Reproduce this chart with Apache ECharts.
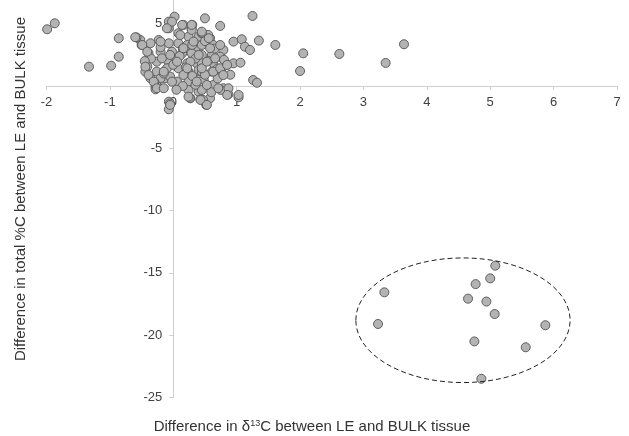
<!DOCTYPE html>
<html>
<head>
<meta charset="utf-8">
<script src="https://cdn.jsdelivr.net/npm/echarts@6/dist/echarts.min.js"></script>
<style>
html,body{margin:0;padding:0;background:#fff;}
#c{width:629px;height:436px;}
</style>
</head>
<body>
<div id="c"></div>
<script>
// Main cluster: difference in d13C (x) and difference in total %C (y)
const mainD13C = [
  0.02,-0.07,-0.07,0.16,0.29,0.08,0.24,0.40,-0.23,-0.36,-0.52,-0.07,0.08,0.22,0.37,
  -0.39,-0.20,-0.02,0.14,0.29,0.45,-0.41,-0.26,-0.10,0.06,0.22,0.37,-0.26,-0.10,0.08,
  0.24,0.40,-0.44,-0.13,0.06,0.24,0.40,-0.28,0.24,0.40,-0.07,0.27,
  0.50,0.74,1.25,0.45,0.58,0.45,0.63,0.79,0.95,1.08,1.13,1.21,1.35,0.61,0.74,0.45,
  0.63,0.85,0.95,1.06,0.45,0.61,0.77,0.48,0.63,0.79,0.85,0.45,1.26,1.32,1.03,0.43,0.58,
  -1.99,-1.87,-1.33,-0.98,-0.86,-0.86,-0.58,-0.50,2.05,2.00,1.61,2.62,3.35,3.64,
  0.52,-0.07,-0.36,-0.20,-0.05,-0.28,0.26,0.47,0.87,0.75,-0.27,-0.05,
  0.15,0.30,0.50,0.35,0.55,0.10,0.20,0.00,-0.15,0.30,0.50,0.70,0.15,0.05,0.60,0.35,
  -0.35,-0.20,0.65,0.80,0.70,0.90,0.55,0.30,-0.45,-0.30,0.14,0.29,0.45,
  -0.60,-0.49,-0.41,-0.44,-0.39,-0.31,-0.26,-0.20,-0.18,-0.15,-0.02,-0.10,0.11,0.16,0.06,
  -0.02,0.16,0.29,0.32,0.40,0.45,0.37,0.45,0.56,0.58,0.66,0.63,0.53,0.24,0.43,0.53,
  -0.05,0.74,0.85,0.79,0.71,0.87,0.85,1.03,0.74,-0.05,0.27,0.22,0.53,-0.15
];
const mainTotalC = [
  5.56,5.16,4.63,4.90,4.63,4.23,3.96,3.96,3.69,3.43,3.69,3.43,3.43,3.29,3.15,
  2.62,2.75,2.75,2.62,2.62,2.49,1.55,1.95,2.09,2.09,1.82,1.82,1.15,1.42,1.42,
  1.15,1.28,1.15,0.62,0.35,0.35,0.48,-0.06,-0.32,-0.46,-1.26,-0.99,
  5.43,4.82,5.62,4.23,3.83,3.29,3.29,2.89,3.56,3.75,3.15,2.89,3.64,2.49,2.35,1.82,
  1.82,1.69,1.82,1.87,1.15,1.15,1.02,0.48,0.08,-0.18,-0.46,-0.32,0.48,0.26,-0.91,-1.07,-0.99,
  4.55,5.03,1.55,1.63,3.83,2.35,3.90,3.29,2.62,1.20,3.29,2.57,1.85,3.35,
  -1.52,-1.87,0.62,0.62,0.75,-0.27,-0.94,-1.12,-0.67,-0.32,0.08,-1.40,
  3.00,3.30,3.60,2.20,2.00,2.40,1.50,1.70,1.00,0.80,0.90,0.60,0.00,-0.30,-0.50,0.10,
  2.20,3.10,3.00,2.10,1.40,0.90,4.10,4.90,2.00,0.30,4.90,4.50,4.28,
  3.91,3.29,2.75,1.55,0.88,0.35,-0.18,3.56,2.22,1.15,5.16,4.63,4.09,3.03,1.95,
  0.35,0.88,4.90,3.56,2.49,1.42,0.35,4.36,3.83,3.03,2.22,1.15,0.08,-0.86,-1.12,-1.52,
  -1.52,1.42,1.69,0.88,-0.18,-0.18,-0.72,-0.72,3.29,2.49,1.95,1.42,1.95,-0.18
];
// Outlying group (circled)
const outD13C = [3.33,3.23,5.08,5.00,4.77,4.65,4.94,5.07,5.87,4.75,5.56,4.86];
const outTotalC = [-16.56,-19.10,-14.42,-15.44,-15.90,-17.07,-17.30,-18.30,-19.20,-20.50,-20.97,-23.50];
// Axis ticks
const xTicks = [-2,-1,0,1,2,3,4,5,6,7];
const yTicks = [-25,-20,-15,-10,-5,0,5];

const pairs = (xs, ys) => xs.map((x, i) => [x, ys[i]]);
const allData = pairs(mainD13C, mainTotalC).concat(pairs(outD13C, outTotalC));

const chart = echarts.init(document.getElementById('c'), null, {renderer: 'canvas'});
const axisGray = '#cfcfcf';
const labelColor = '#404040';
const font = 'Liberation Sans, Arial, sans-serif';
const gridLeft = 46.5, gridRight = 12, gridTop = 0, gridBottom = 38.5;

const option = {
  animation: false,
  backgroundColor: '#fff',
  grid: {left: gridLeft, right: gridRight, top: gridTop, bottom: gridBottom, containLabel: false},
  xAxis: {
    type: 'value',
    min: xTicks[0], max: xTicks[xTicks.length - 1], interval: 1,
    splitLine: {show: false},
    axisLine: {onZero: false, lineStyle: {color: axisGray, width: 1}},
    axisTick: {show: true, length: 4, lineStyle: {color: axisGray}},
    axisLabel: {color: labelColor, fontSize: 13, fontFamily: font, margin: 10}
  },
  yAxis: {
    type: 'value',
    min: yTicks[0], max: 6.9, interval: 5,
    splitLine: {show: false},
    axisLine: {onZero: false, lineStyle: {color: axisGray, width: 1}},
    axisTick: {show: true, length: 4, lineStyle: {color: axisGray},
      customValues: yTicks},
    axisLabel: {color: labelColor, fontSize: 13, fontFamily: font, margin: 11,
      customValues: yTicks,
      formatter: v => (yTicks.indexOf(v) >= 0 ? String(v) : '')}
  },
  series: [{
    type: 'scatter',
    data: allData,
    symbol: 'circle',
    symbolSize: 9,
    itemStyle: {color: '#b3b3b3', borderColor: '#5e5e5e', borderWidth: 1, opacity: 1},
    z: 3
  }]
};
chart.setOption(option);

// Move both axes so they cross at the data origin (0, 0)
const o = chart.convertToPixel({gridIndex: 0}, [0, 0]);
const chartH = chart.getHeight();
chart.setOption({
  xAxis: {offset: -((chartH - gridBottom) - o[1])},
  yAxis: {offset: -(o[0] - gridLeft)}
});

// Annotation: dashed ellipse around the outlying group, placed in data coordinates
const c = chart.convertToPixel({gridIndex: 0}, [4.57, -18.8]);
const e = chart.convertToPixel({gridIndex: 0}, [4.57 + 1.69, -18.8 - 5.0]);
chart.setOption({
  graphic: [
    {
      type: 'ellipse',
      shape: {cx: c[0], cy: c[1], rx: Math.abs(e[0] - c[0]), ry: Math.abs(e[1] - c[1])},
      style: {fill: 'none', stroke: '#222', lineWidth: 1, lineDash: [5, 3]},
      z: 10
    },
    {
      type: 'text',
      x: 312, y: 427,
      style: {
        text: '{a|Difference in δ}{s|13}{a|C between LE and BULK tissue}',
        fontFamily: font,
        align: 'center', verticalAlign: 'middle',
        rich: {
          a: {fontSize: 15, fill: '#333', fontFamily: font},
          s: {fontSize: 9, fill: '#333', fontFamily: font, padding: [0, 0, 7, 0]}
        }
      }
    },
    {
      type: 'text',
      x: 21, y: 189,
      rotation: Math.PI / 2,
      style: {
        text: 'Difference in total %C between LE and BULK tissue',
        fontSize: 15, fill: '#333', fontFamily: font,
        align: 'center', verticalAlign: 'middle'
      }
    }
  ]
});
</script>
</body>
</html>
